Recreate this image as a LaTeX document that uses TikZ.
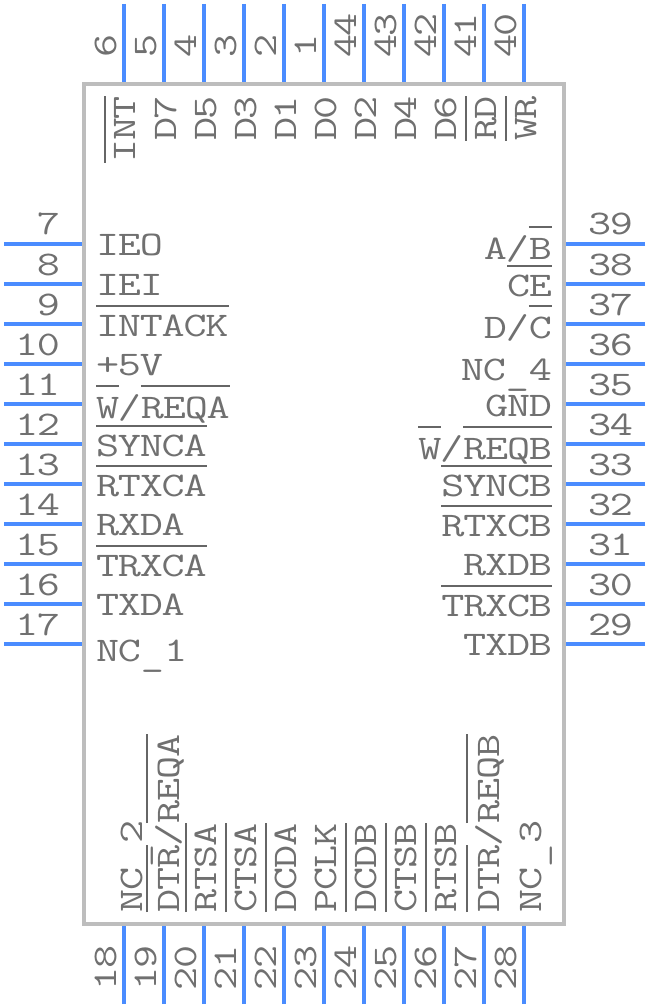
\documentclass[tikz,border=0pt]{standalone}
\usepackage{fontspec}
\newfontfamily\pinfont{Latin Modern Mono}[FakeStretch=1.3, LetterSpace=-3.5]
\usetikzlibrary{positioning}
\definecolor{pinblue}{HTML}{4A8CFF}
\definecolor{bodygray}{HTML}{BDBDBD}
\definecolor{textgray}{HTML}{707070}
\definecolor{bargray}{HTML}{666666}
% overbar on active-low names, optional arg is the height above the baseline
\newlength{\barwd}
\newcommand{\ovbar}[2][28.8pt]{\settowidth{\barwd}{#2}\smash{\rlap{\textcolor{bargray}{\rule[#1]{\barwd}{2.4pt}}}}#2}
% underscore sits lower than the font has it
\newcommand{\lowbar}{\raisebox{-4.5pt}{\_}}
\tikzset{
    pin/.style={draw=pinblue, line width=3.8pt},
    chipbody/.style={rectangle, draw=bodygray, line width=4pt, fill=white, minimum width=480pt, minimum height=840pt, inner sep=0pt},
    txt/.style={inner sep=0pt, outer sep=0pt, text=textgray, font=\pinfont\fontsize{34.5}{34.5}\selectfont},
    numleft/.style={txt, anchor=base east},
    numright/.style={txt, anchor=base west},
    numvert/.style={txt, rotate=90, anchor=base west},
    nameleft/.style={txt, anchor=base west},
    nameright/.style={txt, anchor=base east},
    nametop/.style={txt, rotate=90, anchor=base east},
    namebot/.style={txt, rotate=90, anchor=base west}
}
\begin{document}
\begin{tikzpicture}[x=1pt, y=-1pt]
    \useasboundingbox (0,0) rectangle (648,1008);
    \node[chipbody] (chip) at (324,504) {};

    % top pins
    \coordinate (p6) at (124,4);
    \coordinate (p5) at (164,4);
    \coordinate (p4) at (204,4);
    \coordinate (p3) at (244,4);
    \coordinate (p2) at (284,4);
    \coordinate (p1) at (324,4);
    \coordinate (p44) at (364,4);
    \coordinate (p43) at (404,4);
    \coordinate (p42) at (444,4);
    \coordinate (p41) at (484,4);
    \coordinate (p40) at (524,4);
    \draw[pin] (p6) -- (chip.north -| p6);
    \draw[pin] (p5) -- (chip.north -| p5);
    \draw[pin] (p4) -- (chip.north -| p4);
    \draw[pin] (p3) -- (chip.north -| p3);
    \draw[pin] (p2) -- (chip.north -| p2);
    \draw[pin] (p1) -- (chip.north -| p1);
    \draw[pin] (p44) -- (chip.north -| p44);
    \draw[pin] (p43) -- (chip.north -| p43);
    \draw[pin] (p42) -- (chip.north -| p42);
    \draw[pin] (p41) -- (chip.north -| p41);
    \draw[pin] (p40) -- (chip.north -| p40);

    % left pins
    \coordinate (p7) at (4,244);
    \coordinate (p8) at (4,284);
    \coordinate (p9) at (4,324);
    \coordinate (p10) at (4,364);
    \coordinate (p11) at (4,404);
    \coordinate (p12) at (4,444);
    \coordinate (p13) at (4,484);
    \coordinate (p14) at (4,524);
    \coordinate (p15) at (4,564);
    \coordinate (p16) at (4,604);
    \coordinate (p17) at (4,644);
    \draw[pin] (p7) -- (chip.west |- p7);
    \draw[pin] (p8) -- (chip.west |- p8);
    \draw[pin] (p9) -- (chip.west |- p9);
    \draw[pin] (p10) -- (chip.west |- p10);
    \draw[pin] (p11) -- (chip.west |- p11);
    \draw[pin] (p12) -- (chip.west |- p12);
    \draw[pin] (p13) -- (chip.west |- p13);
    \draw[pin] (p14) -- (chip.west |- p14);
    \draw[pin] (p15) -- (chip.west |- p15);
    \draw[pin] (p16) -- (chip.west |- p16);
    \draw[pin] (p17) -- (chip.west |- p17);

    % right pins
    \coordinate (p39) at (645,244);
    \coordinate (p38) at (645,284);
    \coordinate (p37) at (645,324);
    \coordinate (p36) at (645,364);
    \coordinate (p35) at (645,404);
    \coordinate (p34) at (645,444);
    \coordinate (p33) at (645,484);
    \coordinate (p32) at (645,524);
    \coordinate (p31) at (645,564);
    \coordinate (p30) at (645,604);
    \coordinate (p29) at (645,644);
    \draw[pin] (p39) -- (chip.east |- p39);
    \draw[pin] (p38) -- (chip.east |- p38);
    \draw[pin] (p37) -- (chip.east |- p37);
    \draw[pin] (p36) -- (chip.east |- p36);
    \draw[pin] (p35) -- (chip.east |- p35);
    \draw[pin] (p34) -- (chip.east |- p34);
    \draw[pin] (p33) -- (chip.east |- p33);
    \draw[pin] (p32) -- (chip.east |- p32);
    \draw[pin] (p31) -- (chip.east |- p31);
    \draw[pin] (p30) -- (chip.east |- p30);
    \draw[pin] (p29) -- (chip.east |- p29);

    % bottom pins
    \coordinate (p18) at (124,1004);
    \coordinate (p19) at (164,1004);
    \coordinate (p20) at (204,1004);
    \coordinate (p21) at (244,1004);
    \coordinate (p22) at (284,1004);
    \coordinate (p23) at (324,1004);
    \coordinate (p24) at (364,1004);
    \coordinate (p25) at (404,1004);
    \coordinate (p26) at (444,1004);
    \coordinate (p27) at (484,1004);
    \coordinate (p28) at (524,1004);
    \draw[pin] (p18) -- (chip.south -| p18);
    \draw[pin] (p19) -- (chip.south -| p19);
    \draw[pin] (p20) -- (chip.south -| p20);
    \draw[pin] (p21) -- (chip.south -| p21);
    \draw[pin] (p22) -- (chip.south -| p22);
    \draw[pin] (p23) -- (chip.south -| p23);
    \draw[pin] (p24) -- (chip.south -| p24);
    \draw[pin] (p25) -- (chip.south -| p25);
    \draw[pin] (p26) -- (chip.south -| p26);
    \draw[pin] (p27) -- (chip.south -| p27);
    \draw[pin] (p28) -- (chip.south -| p28);

    % pin numbers
    \node[numvert] (n6) at (116,58) {6};
    \node[numvert] (n5) at (156,58) {5};
    \node[numvert] (n4) at (196,58) {4};
    \node[numvert] (n3) at (236,58) {3};
    \node[numvert] (n2) at (276,58) {2};
    \node[numvert] (n1) at (316,58) {1};
    \node[numvert] (n44) at (356,58) {44};
    \node[numvert] (n43) at (396,58) {43};
    \node[numvert] (n42) at (436,58) {42};
    \node[numvert] (n41) at (476,58) {41};
    \node[numvert] (n40) at (516,58) {40};
    \node[numleft] (n7) at (60,235) {7};
    \node[numleft] (n8) at (60,275) {8};
    \node[numleft] (n9) at (60,315) {9};
    \node[numleft] (n10) at (60,355) {10};
    \node[numleft] (n11) at (60,395) {11};
    \node[numleft] (n12) at (60,435) {12};
    \node[numleft] (n13) at (60,475) {13};
    \node[numleft] (n14) at (60,515) {14};
    \node[numleft] (n15) at (60,555) {15};
    \node[numleft] (n16) at (60,595) {16};
    \node[numleft] (n17) at (60,635) {17};
    \node[numright] (n39) at (588,235) {39};
    \node[numright] (n38) at (588,275) {38};
    \node[numright] (n37) at (588,315) {37};
    \node[numright] (n36) at (588,355) {36};
    \node[numright] (n35) at (588,395) {35};
    \node[numright] (n34) at (588,435) {34};
    \node[numright] (n33) at (588,475) {33};
    \node[numright] (n32) at (588,515) {32};
    \node[numright] (n31) at (588,555) {31};
    \node[numright] (n30) at (588,595) {30};
    \node[numright] (n29) at (588,635) {29};
    \node[numvert] (n18) at (116,990) {18};
    \node[numvert] (n19) at (156,990) {19};
    \node[numvert] (n20) at (196,990) {20};
    \node[numvert] (n21) at (236,990) {21};
    \node[numvert] (n22) at (276,990) {22};
    \node[numvert] (n23) at (316,990) {23};
    \node[numvert] (n24) at (356,990) {24};
    \node[numvert] (n25) at (396,990) {25};
    \node[numvert] (n26) at (436,990) {26};
    \node[numvert] (n27) at (476,990) {27};
    \node[numvert] (n28) at (516,990) {28};

    % signal names
    \node[nametop] (int) at (135,96) {\ovbar{INT}};
    \node[nametop] (d7) at (176,96) {D7};
    \node[nametop] (d5) at (216,96) {D5};
    \node[nametop] (d3) at (256,96) {D3};
    \node[nametop] (d1) at (296,96) {D1};
    \node[nametop] (d0) at (336,96) {D0};
    \node[nametop] (d2) at (376,96) {D2};
    \node[nametop] (d4) at (416,96) {D4};
    \node[nametop] (d6) at (456,96) {D6};
    \node[nametop] (rd) at (496,96) {\ovbar{RD}};
    \node[nametop] (wr) at (536,96) {\ovbar{WR}};

    \node[nameleft] (ieo) at (96,255) {IEO};
    \node[nameleft] (iei) at (96,295) {IEI};
    \node[nameleft] (intack) at (96,336) {\ovbar{INTACK}};
    \node[nameleft] (vcc) at (96,375) {+5V};
    \node[nameleft] (wreqa) at (96,418) {\ovbar[30.8pt]{W}/\ovbar[30.8pt]{REQA}};
    \node[nameleft] (synca) at (96,456) {\ovbar{SYNCA}};
    \node[nameleft] (rtxca) at (96,496) {\ovbar{RTXCA}};
    \node[nameleft] (rxda) at (96,535) {RXDA};
    \node[nameleft] (trxca) at (96,576) {\ovbar{TRXCA}};
    \node[nameleft] (txda) at (96,615) {TXDA};
    \node[nameleft] (nc1) at (96,661) {NC\lowbar 1};

    \node[nameright] (ab) at (552,259) {A/\ovbar[30.8pt]{B}};
    \node[nameright] (ce) at (552,296) {\ovbar{CE}};
    \node[nameright] (dc) at (552,338) {D/\ovbar[30.8pt]{C}};
    \node[nameright] (nc4) at (552,380) {NC\lowbar 4};
    \node[nameright] (gnd) at (552,416) {GND};
    \node[nameright] (wreqb) at (552,459) {\ovbar[30.8pt]{W}/\ovbar[30.8pt]{REQB}};
    \node[nameright] (syncb) at (552,496) {\ovbar{SYNCB}};
    \node[nameright] (rtxcb) at (552,536) {\ovbar{RTXCB}};
    \node[nameright] (rxdb) at (552,575) {RXDB};
    \node[nameright] (trxcb) at (552,616) {\ovbar{TRXCB}};
    \node[nameright] (txdb) at (552,655) {TXDB};

    \node[namebot] (nc2) at (142,912) {NC\lowbar 2};
    \node[namebot] (dtra) at (179,912) {\ovbar[30.8pt]{DTR}/\ovbar[30.8pt]{REQA}};
    \node[namebot] (rtsa) at (216,912) {\ovbar{RTSA}};
    \node[namebot] (ctsa) at (256,912) {\ovbar{CTSA}};
    \node[namebot] (dcda) at (296,912) {\ovbar{DCDA}};
    \node[namebot] (pclk) at (336,912) {PCLK};
    \node[namebot] (dcdb) at (376,912) {\ovbar{DCDB}};
    \node[namebot] (ctsb) at (416,912) {\ovbar{CTSB}};
    \node[namebot] (rtsb) at (456,912) {\ovbar{RTSB}};
    \node[namebot] (dtrb) at (499,912) {\ovbar[30.8pt]{DTR}/\ovbar[30.8pt]{REQB}};
    \node[namebot] (nc3) at (541,912) {NC\lowbar 3};
\end{tikzpicture}
\end{document}
